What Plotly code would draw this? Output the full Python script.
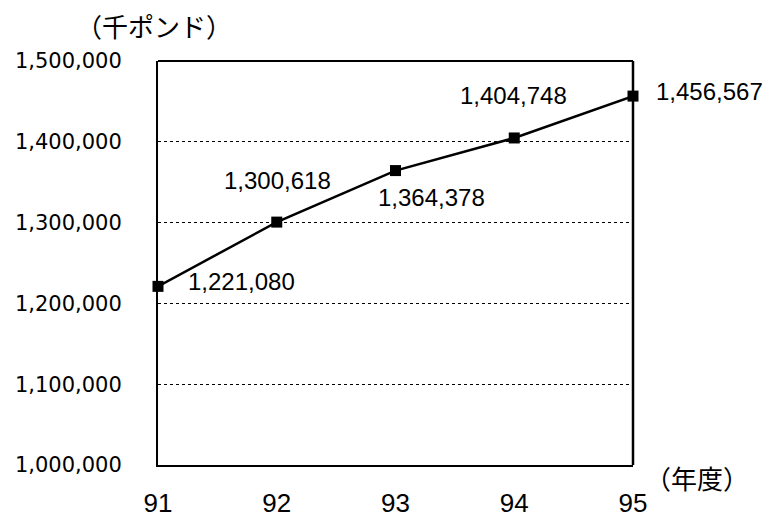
import plotly.graph_objects as go

# 年度別の金額（千ポンド）
years = [91, 92, 93, 94, 95]
values = [1221080, 1300618, 1364378, 1404748, 1456567]
y_ticks = [1000000, 1100000, 1200000, 1300000, 1400000, 1500000]

Y_FONT = "DejaVu Sans"
LABEL_FONT = "Liberation Sans"
JP_FONT = "Noto Sans CJK JP"

# データラベルの配置（アンカーとピクセル単位のずらし量）
label_anchor = ["left", "center", "center", "center", "left"]
label_dx = [28, 1, 36, -1, 21]
label_dy = [5, 42, -27, 42, 5]

fig = go.Figure()

fig.add_trace(go.Scatter(
    x=years,
    y=values,
    mode="lines+markers",
    line=dict(color="black", width=2.5),
    marker=dict(symbol="square", size=11, color="black"),
    cliponaxis=False,
    showlegend=False,
))

annotations = []
for x, v, anc, dx, dy in zip(years, values, label_anchor, label_dx, label_dy):
    annotations.append(dict(
        x=x, y=v, xref="x", yref="y", text=f"{v:,}", showarrow=False,
        xanchor=anc, yanchor="middle", xshift=dx, yshift=dy,
        font=dict(family=LABEL_FONT, size=24, color="black"),
    ))

annotations += [
    dict(text="（千ポンド）", xref="paper", yref="paper", x=-0.008, y=1.087,
         xanchor="center", yanchor="middle", showarrow=False,
         font=dict(family=JP_FONT, size=26, color="black")),
    dict(text="（年度）", xref="paper", yref="paper", x=1.022, y=-0.032,
         xanchor="left", yanchor="middle", showarrow=False,
         font=dict(family=JP_FONT, size=26, color="black")),
]

fig.update_layout(
    width=771,
    height=517,
    margin=dict(l=158, r=138, t=61, b=52),
    paper_bgcolor="white",
    plot_bgcolor="white",
    font=dict(family=Y_FONT, size=21, color="black"),
    xaxis=dict(
        range=[91, 95],
        tickvals=years,
        ticktext=[str(y) for y in years],
        tickfont=dict(family=LABEL_FONT, size=26),
        showgrid=False,
        zeroline=False,
        showline=True,
        linecolor="black",
        linewidth=2,
        ticks="",
        ticklabelstandoff=14,
        automargin=False,
    ),
    yaxis=dict(
        range=[1000000, 1500000],
        tickvals=y_ticks,
        ticktext=[f"{v:,}" for v in y_ticks],
        tickfont=dict(family=Y_FONT, size=21),
        showgrid=True,
        gridcolor="black",
        gridwidth=1,
        griddash="dot",
        zeroline=False,
        showline=True,
        linecolor="black",
        linewidth=2,
        ticks="",
        ticklabelstandoff=30,
        automargin=False,
    ),
    shapes=[
        # 上辺と右辺の枠線
        dict(type="line", xref="paper", yref="paper", x0=0, x1=1, y0=1, y1=1,
             line=dict(color="black", width=2)),
        dict(type="line", xref="paper", yref="paper", x0=1, x1=1, y0=0, y1=1,
             line=dict(color="black", width=2.5)),
    ],
    annotations=annotations,
)

fig.write_html("out.html")
